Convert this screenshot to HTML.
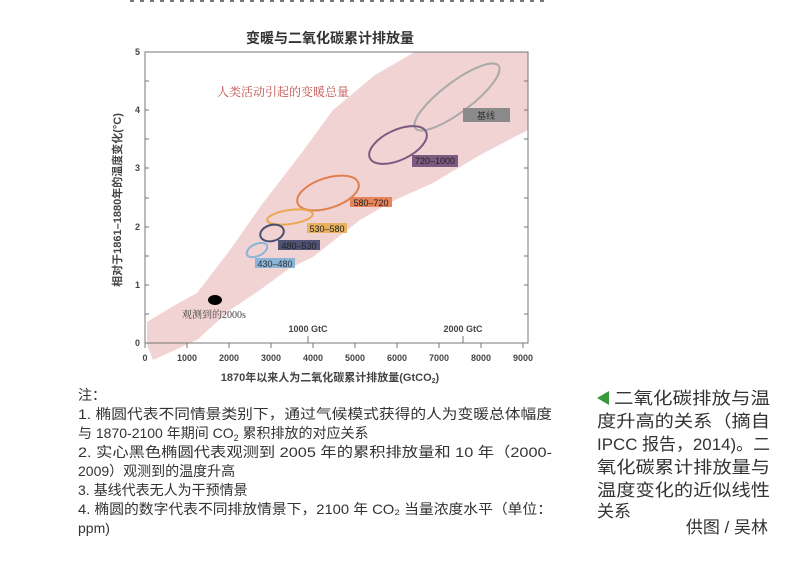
<!DOCTYPE html>
<html><head><meta charset="utf-8"><style>
html,body{margin:0;padding:0;background:#fff;}
svg{display:block;}
text{font-family:"Liberation Sans","Noto Sans CJK SC",sans-serif;}
.s{font-family:"Liberation Serif","Noto Serif CJK SC",serif;}
</style></head><body>
<svg width="807" height="570" viewBox="0 0 807 570" xmlns="http://www.w3.org/2000/svg">
<rect width="807" height="570" fill="#fff"/>
<line x1="130" y1="1" x2="545" y2="1" stroke="#777" stroke-width="2" stroke-dasharray="4 6"/>
<text x="330" y="43" font-size="14" font-weight="bold" text-anchor="middle" fill="#333">变暖与二氧化碳累计排放量</text>
<defs><clipPath id="c"><rect x="140" y="52" width="388" height="310"/></clipPath></defs>
<polygon clip-path="url(#c)" fill="#f2d3d3" points="147,322 175,305 197,293 230,250 263,203 300,155 333,110 375,75 413,53 413,40 540,40 540,125 528,130 480,155 433,183 395,200 360,220 313,257 290,268 260,290 230,310 197,340 175,350 153,360 147,345"/>
<rect x="145" y="52" width="383" height="291" fill="none" stroke="#777" stroke-width="1"/>
<g stroke="#777" stroke-width="1">
<line x1="145" y1="343" x2="145" y2="348"/><line x1="187" y1="343" x2="187" y2="348"/><line x1="229" y1="343" x2="229" y2="348"/><line x1="271" y1="343" x2="271" y2="348"/><line x1="313" y1="343" x2="313" y2="348"/><line x1="355" y1="343" x2="355" y2="348"/><line x1="397" y1="343" x2="397" y2="348"/><line x1="439" y1="343" x2="439" y2="348"/><line x1="481" y1="343" x2="481" y2="348"/><line x1="523" y1="343" x2="523" y2="348"/>
<line x1="308" y1="343" x2="308" y2="336"/><line x1="463" y1="343" x2="463" y2="336"/>
<line x1="145" y1="314" x2="149" y2="314"/><line x1="145" y1="285" x2="149" y2="285"/><line x1="145" y1="256" x2="149" y2="256"/><line x1="145" y1="227" x2="149" y2="227"/><line x1="145" y1="198" x2="149" y2="198"/><line x1="145" y1="168" x2="149" y2="168"/><line x1="145" y1="139" x2="149" y2="139"/><line x1="145" y1="110" x2="149" y2="110"/><line x1="145" y1="81" x2="149" y2="81"/>
<line x1="528" y1="314" x2="524" y2="314"/><line x1="528" y1="285" x2="524" y2="285"/><line x1="528" y1="256" x2="524" y2="256"/><line x1="528" y1="227" x2="524" y2="227"/><line x1="528" y1="198" x2="524" y2="198"/><line x1="528" y1="168" x2="524" y2="168"/><line x1="528" y1="139" x2="524" y2="139"/><line x1="528" y1="110" x2="524" y2="110"/><line x1="528" y1="81" x2="524" y2="81"/>
</g>
<g font-size="9" font-weight="bold" fill="#444" text-anchor="middle">
<text x="145" y="361">0</text><text x="187" y="361">1000</text><text x="229" y="361">2000</text><text x="271" y="361">3000</text><text x="313" y="361">4000</text><text x="355" y="361">5000</text><text x="397" y="361">6000</text><text x="439" y="361">7000</text><text x="481" y="361">8000</text><text x="523" y="361">9000</text>
<text x="308" y="332">1000 GtC</text><text x="463" y="332">2000 GtC</text>
</g>
<g font-size="9" font-weight="bold" fill="#444" text-anchor="end">
<text x="140" y="346">0</text><text x="140" y="288">1</text><text x="140" y="230">2</text><text x="140" y="171">3</text><text x="140" y="113">4</text><text x="140" y="55">5</text>
</g>
<text x="330" y="381" font-size="11" font-weight="bold" fill="#444" text-anchor="middle">1870年以来人为二氧化碳累计排放量(GtCO<tspan font-size="7" dy="2">2</tspan><tspan dy="-2">)</tspan></text>
<text transform="translate(121,200) rotate(-90)" font-size="11" font-weight="bold" fill="#444" text-anchor="middle">相对于1861–1880年的温度变化(°C)</text>
<text class="s" x="217" y="96" font-size="12" fill="#c0504d">人类活动引起的变暖总量</text>
<g fill="none" stroke-width="2">
<ellipse cx="457" cy="97" rx="52" ry="15" transform="rotate(-37 457 97)" stroke="#aaa"/>
<ellipse cx="398" cy="145" rx="31" ry="15" transform="rotate(-25 398 145)" stroke="#7a5a80"/>
<ellipse cx="328" cy="193" rx="32" ry="15" transform="rotate(-18 328 193)" stroke="#e08050"/>
<ellipse cx="290" cy="217" rx="23" ry="7" transform="rotate(-8 290 217)" stroke="#e8a850"/>
<ellipse cx="272" cy="233" rx="12" ry="8" transform="rotate(-15 272 233)" stroke="#4a4e6e"/>
<ellipse cx="257" cy="250" rx="11" ry="6" transform="rotate(-25 257 250)" stroke="#8ab4d8"/>
</g>
<ellipse cx="215" cy="300" rx="7" ry="5" fill="#000"/>
<text class="s" x="182" y="318" font-size="10" fill="#444">观测到的2000s</text>
<g font-size="9">
<rect x="463" y="108" width="47" height="14" fill="#8a8a8a"/><text x="486" y="119" text-anchor="middle" fill="#333">基线</text>
<rect x="412" y="155" width="46" height="12" fill="#7d5a80"/><text x="435" y="164" text-anchor="middle" fill="#222">720–1000</text>
<rect x="350" y="197" width="42" height="10" fill="#e6855c"/><text x="371" y="206" text-anchor="middle" fill="#222">580–720</text>
<rect x="307" y="223" width="40" height="10" fill="#eab160"/><text x="327" y="232" text-anchor="middle" fill="#222">530–580</text>
<rect x="278" y="240" width="42" height="10" fill="#4f5373"/><text x="299" y="249" text-anchor="middle" fill="#222">480–530</text>
<rect x="255" y="258" width="40" height="10" fill="#8ab4d8"/><text x="275" y="267" text-anchor="middle" fill="#333">430–480</text>
</g>
<g font-size="14" fill="#333">
<text x="78" y="400">注：</text>
<text x="78" y="419" textLength="474" lengthAdjust="spacingAndGlyphs">1. 椭圆代表不同情景类别下，通过气候模式获得的人为变暖总体幅度</text>
<text x="78" y="438">与 1870-2100 年期间 CO<tspan font-size="9" dy="3">2</tspan><tspan dy="-3"> 累积排放的对应关系</tspan></text>
<text x="78" y="457" textLength="474" lengthAdjust="spacingAndGlyphs">2. 实心黑色椭圆代表观测到 2005 年的累积排放量和 10 年（2000-</text>
<text x="78" y="476">2009）观测到的温度升高</text>
<text x="78" y="495">3. 基线代表无人为干预情景</text>
<text x="78" y="514" textLength="474" lengthAdjust="spacingAndGlyphs">4. 椭圆的数字代表不同排放情景下，2100 年 CO₂ 当量浓度水平（单位：</text>
<text x="78" y="533">ppm)</text>
</g>
<polygon points="597,398 609,391 609,405" fill="#3a9a3a"/>
<g font-size="17" fill="#333">
<text x="614" y="404" textLength="156" lengthAdjust="spacingAndGlyphs">二氧化碳排放与温</text>
<text x="597" y="427" textLength="173" lengthAdjust="spacingAndGlyphs">度升高的关系（摘自</text>
<text x="597" y="450" textLength="173" lengthAdjust="spacingAndGlyphs">IPCC 报告，2014)。二</text>
<text x="597" y="473" textLength="173" lengthAdjust="spacingAndGlyphs">氧化碳累计排放量与</text>
<text x="597" y="496" textLength="173" lengthAdjust="spacingAndGlyphs">温度变化的近似线性</text>
<text x="597" y="517">关系</text>
<text x="768" y="533" text-anchor="end">供图 / 吴林</text>
</g>
</svg>
</body></html>
